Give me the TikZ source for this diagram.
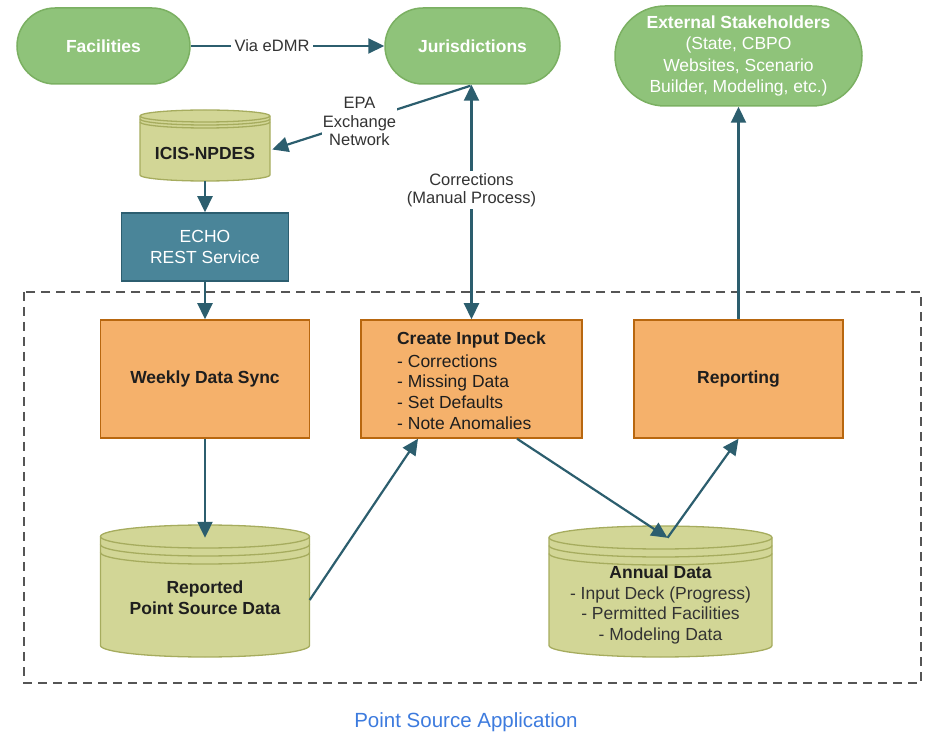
\documentclass[tikz,border=0pt]{standalone}
\usepackage{fontspec}
\setmainfont{Liberation Sans}
\usetikzlibrary{arrows.meta,calc}
\definecolor{grn}{HTML}{8FC37A}
\definecolor{grnd}{HTML}{7BB062}
\definecolor{org}{HTML}{F5B16B}
\definecolor{orgd}{HTML}{B8670F}
\definecolor{cylf}{HTML}{D2D696}
\definecolor{cyld}{HTML}{A6AC5E}
\definecolor{echof}{HTML}{4A8599}
\definecolor{echod}{HTML}{2C5E70}
\definecolor{arr}{HTML}{2C5E6E}
\definecolor{txt}{HTML}{1E1E1E}
\definecolor{lbltxt}{HTML}{333333}
\definecolor{ttl}{HTML}{3D7BDE}
\definecolor{dashc}{HTML}{555555}
\newcommand\cylshape[6]{%
  \pgfmathsetlengthmacro\cylrx{(#2-#1)/2}%
  \filldraw[cylbody] (#1,#3-#5) -- (#1,#4+#5)
    arc[start angle=180,end angle=360,x radius=\cylrx,y radius=#5pt]
    -- (#2,#3-#5)
    arc[start angle=0,end angle=180,x radius=\cylrx,y radius=#5pt] -- cycle;
  \draw[cylbody,fill=none] (#1,#3-#5) arc[start angle=180,end angle=360,x radius=\cylrx,y radius=#5pt];
  \draw[cylbody,fill=none] (#1,#3-#5-#6) arc[start angle=180,end angle=360,x radius=\cylrx,y radius=#5pt];
  \draw[cylbody,fill=none] (#1,#3-#5-2*#6) arc[start angle=180,end angle=360,x radius=\cylrx,y radius=#5pt];
}
\begin{document}
\begin{tikzpicture}[x=1pt,y=1pt,
  font=\fontsize{17.5}{20.7}\selectfont,
  term/.style={draw=grnd, fill=grn, line width=1.5pt, text=white,
    font=\fontsize{17.5}{21.5}\selectfont, align=center, inner sep=0pt},
  proc/.style={draw=orgd, fill=org, line width=1.5pt, minimum width=209pt,
    minimum height=118pt, align=center, text=txt, inner sep=0pt},
  cylbody/.style={draw=cyld, fill=cylf, line width=1.3pt},
  box/.style={minimum width=#1, inner sep=0pt},
  tip/.tip={Triangle[length=16pt,width=15pt]},
  conn/.style={draw=arr, line width=2.2pt, -tip},
  lbl/.style={fill=white, inner sep=4pt, text=lbltxt, align=center,
    font=\fontsize{16.5}{18.5}\selectfont}]

\useasboundingbox (0,0) rectangle (926,737);

% dashed frame
\draw[draw=dashc, line width=1.2pt, dash pattern=on 9pt off 6pt] (24,445) rectangle (921,54);

% top terminals
\node[term, minimum width=173pt, minimum height=76pt, rounded corners=38pt] (fac) at (103.5,691) {\bfseries Facilities};
\node[term, minimum width=175pt, minimum height=76pt, rounded corners=38pt] (jur) at (472.5,691) {\bfseries Jurisdictions};
\node[term, minimum width=247pt, minimum height=100pt, rounded corners=50pt] (ext) at (738.5,681)
  {\bfseries External Stakeholders\\(State, CBPO\\Websites, Scenario\\Builder, Modeling, etc.)};

% ICIS-NPDES cylinder
\cylshape{140}{270}{627}{556}{6}{3}
\node[box=130pt, minimum height=71pt] (icis) at (205,591.5) {};
\node[text=txt] (icist) at (205,584) {\bfseries ICIS-NPDES};

% ECHO
\node[draw=echod, fill=echof, line width=1.5pt, minimum width=167pt, minimum height=68pt,
  text=white, align=center, inner sep=0pt] (echo) at (205,490) {ECHO\\REST Service};

% process boxes
\node[proc] (weekly) at (205,358) {\bfseries Weekly Data Sync};
\node[proc, minimum width=221pt] (create) at (471.5,358) {};
\node[text=txt] (createt) at (471.5,397) {\bfseries Create Input Deck};
\node[text=txt, anchor=west, align=left, inner sep=0pt] (createl) at (397,345)
  {- Corrections\\- Missing Data\\- Set Defaults\\- Note Anomalies};
\node[proc] (report) at (738.5,358) {\bfseries Reporting};

% data stores
\cylshape{100.5}{309.5}{212}{80}{11.5}{8}
\node[box=209pt, minimum height=132pt] (reported) at (205,146) {};
\node[text=txt, align=center] (reportedt) at (205,139) {\bfseries Reported\\\bfseries Point Source Data};
\cylshape{549}{772}{211}{80}{11.5}{8}
\node[box=223pt, minimum height=131pt] (annual) at (660.5,145.5) {};
\node[text=lbltxt, align=center] (annualt) at (660.5,132)
  {\textcolor{txt}{\bfseries Annual Data}\\- Input Deck (Progress)\\- Permitted Facilities\\- Modeling Data};

% connectors
\draw[conn] (fac.east) -- node[lbl, pos=0.42] {Via eDMR} (jur.west);
\draw[conn] ($(jur.south)+(-2,-1)$) -- node[lbl, pos=0.56, inner sep=1pt] {EPA\\Exchange\\Network} ($(icis.east)+(2,-4)$);
\draw[conn] (icis.south) -- (echo.north);
\draw[conn] (echo.south) -- (weekly.north);
\draw[conn] (weekly.south) -- ($(reported.north)+(0,-13)$);
\draw[conn] ($(reported.east)+(0,-9)$) -- ($(create.south)+(-53.5,0)$);
\draw[conn] ($(create.south)+(45.5,0)$) -- ($(annual.north)+(7,-12)$);
\draw[conn] ($(annual.north)+(7,-12)$) -- (report.south);
\draw[conn] (report.north) -- (ext.south);
\draw[conn, tip-tip]
  (create.north) -- node[lbl, pos=0.55, inner sep=2pt] {Corrections\\(Manual Process)} ($(jur.south)+(-1,0)$);

% title
\node[text=ttl, font=\fontsize{20.5}{24}\selectfont] (title) at (466,15) {Point Source Application};
\end{tikzpicture}
\end{document}
